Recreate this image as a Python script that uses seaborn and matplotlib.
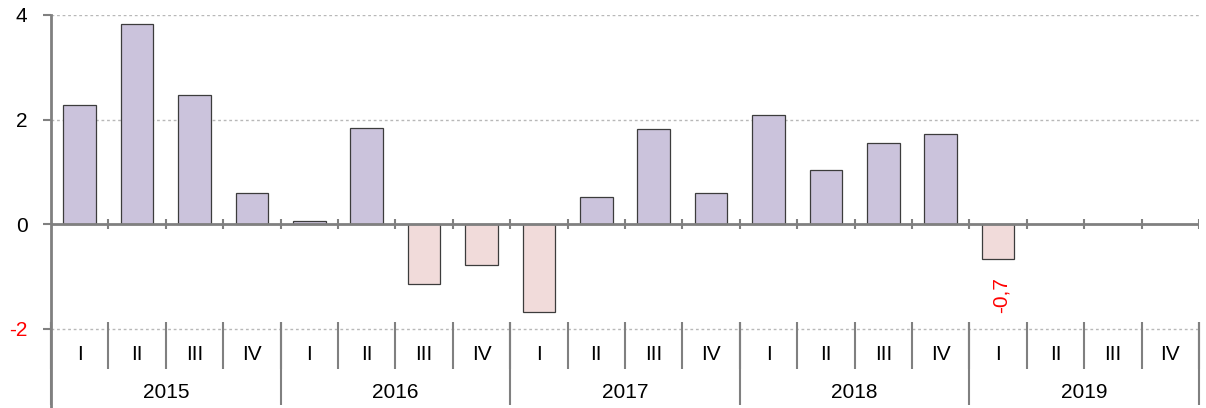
import numpy as np
import pandas as pd
import matplotlib
matplotlib.use("Agg")
import matplotlib.pyplot as plt
import seaborn as sns

years = ["2015", "2016", "2017", "2018", "2019"]
quarters = ["I", "II", "III", "IV"]
values = [2.27, 3.83, 2.47, 0.59,
          0.05, 1.84, -1.15, -0.78,
          -1.68, 0.52, 1.82, 0.59,
          2.09, 1.03, 1.55, 1.72,
          -0.67, np.nan, np.nan, np.nan]
yticks = [-2, 0, 2, 4]
last_label = "-0,7"

sns.set_theme(style="white")
plt.rcParams["font.family"] = ["Liberation Sans", "DejaVu Sans"]

cats = [f"{y} {q}" for y in years for q in quarters]
df = pd.DataFrame({"cat": cats, "value": values})
df["sign"] = np.where(df["value"] < 0, "neg", "pos")

fig = plt.figure(figsize=(12.06, 4.08), dpi=100)
ax = fig.add_axes([51 / 1206, 0, 1148 / 1206, 393 / 408])

sns.barplot(data=df, x="cat", y="value", hue="sign", order=cats,
            hue_order=["pos", "neg"],
            palette={"pos": "#CBC3DC", "neg": "#F1DBDA"}, saturation=1,
            dodge=False, width=0.57, errorbar=None, legend=False,
            edgecolor="#3c3c3c", linewidth=0.9, ax=ax, zorder=3)

n = len(cats)
ax.set_xlim(-0.5, n - 0.5)
ax.set_ylim(-3.52, 4)

# grid lines
for yv in [4, 2, -2]:
    ax.axhline(yv, color="#b8b8b8", lw=1, ls=(0, (2, 2)), zorder=1)
# zero axis
ax.axhline(0, color="#808080", lw=2, zorder=4)
bounds = np.arange(n + 1) - 0.5
ax.vlines(bounds, -0.1, 0.1, color="#808080", lw=1.5, zorder=4)

# category axis below
ax.vlines(bounds, -1.88, -2.78, color="#808080", lw=1.5, clip_on=False)
ax.vlines(bounds[::4], -1.88, -3.46, color="#808080", lw=1.5, clip_on=False)
for i, c in enumerate(cats):
    ax.text(i, -2.5, c.split(" ")[1], ha="center", va="center", fontsize=15, color="black")
for j, y in enumerate(years):
    ax.text(j * 4 + 1.5, -3.22, y, ha="center", va="center", fontsize=15, color="black")

# data label for last value
idx = max(i for i, v in enumerate(values) if not np.isnan(v))
ax.annotate(last_label, xy=(idx, values[idx]), xytext=(2, -13), textcoords="offset points",
            rotation=90, ha="center", va="top", color="red", fontsize=15)

for s in ["top", "right", "bottom"]:
    ax.spines[s].set_visible(False)
ax.spines["left"].set_color("#808080")
ax.spines["left"].set_linewidth(2)

ax.set_xticks([])
ax.set_yticks(yticks)
ax.set_yticklabels([str(t) for t in yticks], fontsize=15)
ax.tick_params(axis="y", left=True, length=6, width=1.5, color="#808080", pad=11)
for lab, t in zip(ax.get_yticklabels(), yticks):
    lab.set_color("red" if t < 0 else "black")
ax.set_xlabel("")
ax.set_ylabel("")

fig.savefig("out.png", dpi=100)
